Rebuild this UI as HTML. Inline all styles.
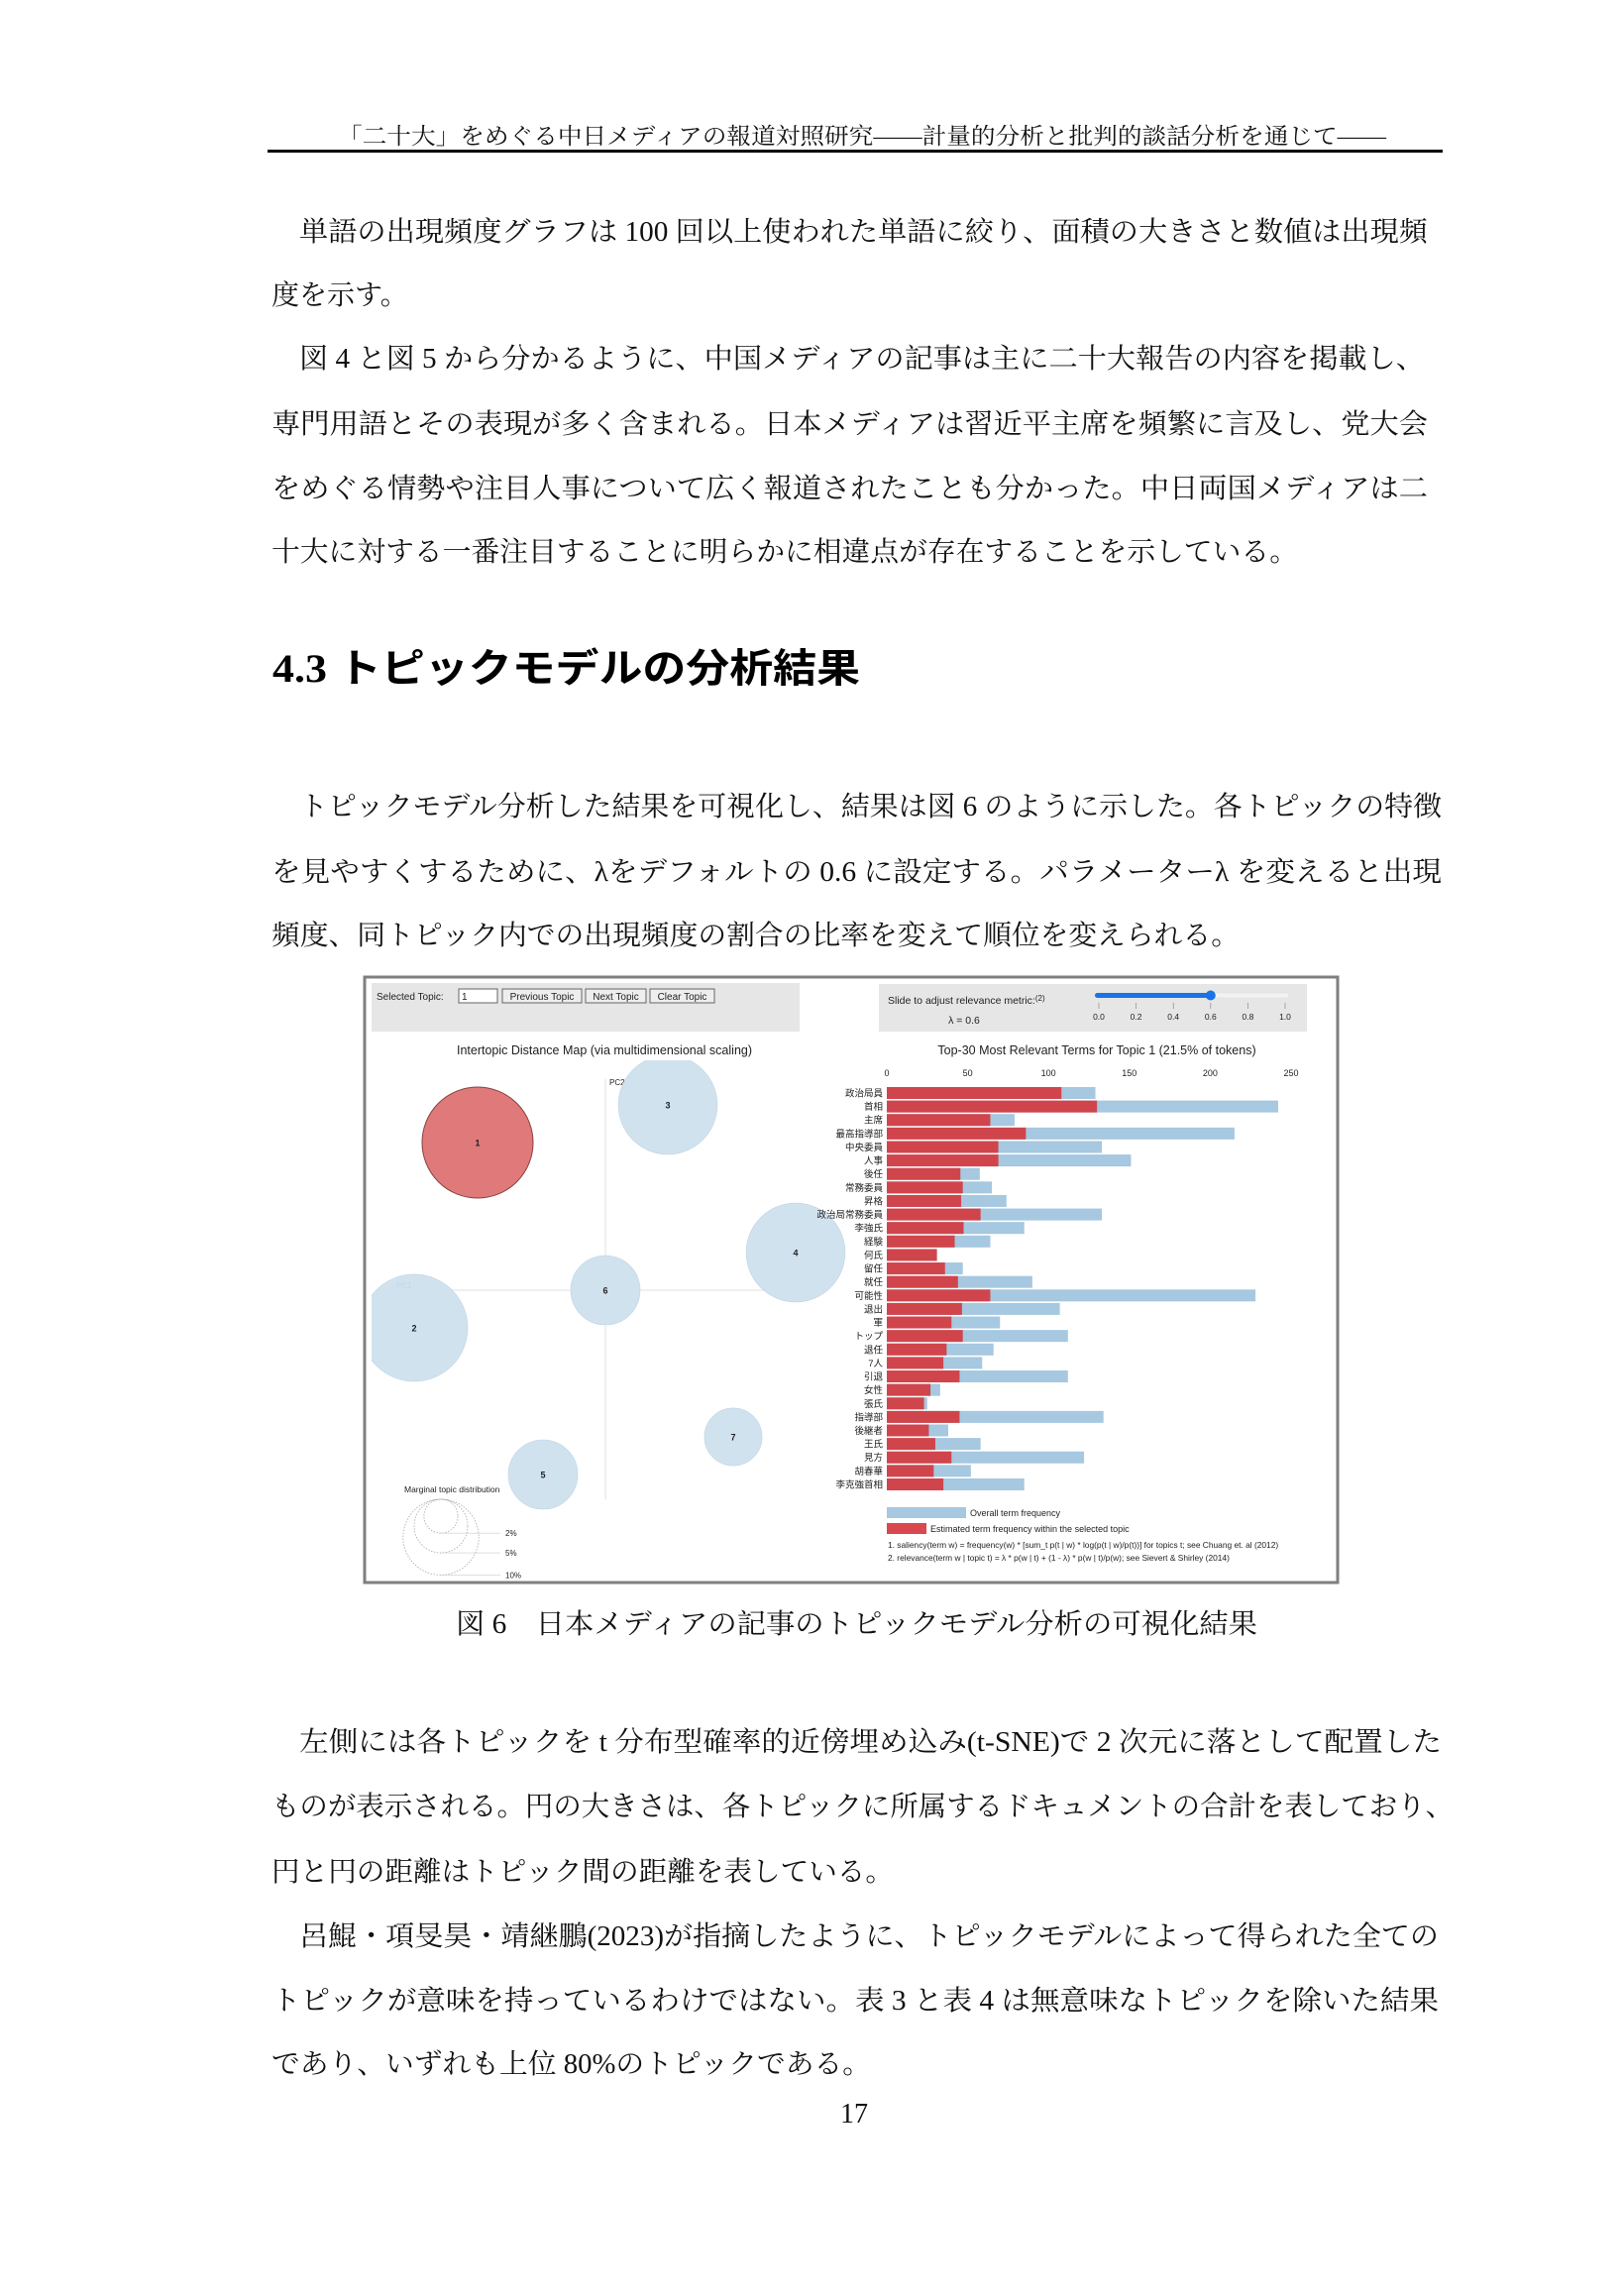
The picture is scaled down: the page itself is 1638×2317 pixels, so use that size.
<!DOCTYPE html>
<html><head><meta charset="utf-8">
<style>
html,body{margin:0;padding:0;background:#fff;}
svg{display:block;}
.t{font-family:"Liberation Serif","Noto Serif CJK SC",serif;font-size:28px;fill:#111;}
.h{font-family:"Liberation Serif","Noto Serif CJK SC",serif;font-size:23px;fill:#111;}
.hd{font-family:"Liberation Serif","Noto Sans CJK JP",sans-serif;font-size:40px;font-weight:bold;fill:#000;}
.s{font-family:"Liberation Sans","Noto Sans CJK JP",sans-serif;fill:#222;}
</style></head>
<body>
<svg id="page" width="1638" height="2317" viewBox="0 0 1638 2317" xmlns="http://www.w3.org/2000/svg">
<text class="h" x="341" y="145" textLength="1058" lengthAdjust="spacingAndGlyphs">「二十大」をめぐる中日メディアの報道対照研究——計量的分析と批判的談話分析を通じて——</text>
<rect x="270" y="151" width="1186" height="3" fill="#000"/>

<g>
<text class="t" x="302" y="243" textLength="1139" lengthAdjust="spacingAndGlyphs">単語の出現頻度グラフは 100 回以上使われた単語に絞り、面積の大きさと数値は出現頻</text>
<text class="t" x="274" y="307">度を示す。</text>
</g>
<g>
<text class="t" x="302" y="371" textLength="1136" lengthAdjust="spacingAndGlyphs">図 4 と図 5 から分かるように、中国メディアの記事は主に二十大報告の内容を掲載し、</text>
<text class="t" x="274" y="437" textLength="1167" lengthAdjust="spacingAndGlyphs">専門用語とその表現が多く含まれる。日本メディアは習近平主席を頻繁に言及し、党大会</text>
<text class="t" x="274" y="502" textLength="1167" lengthAdjust="spacingAndGlyphs">をめぐる情勢や注目人事について広く報道されたことも分かった。中日両国メディアは二</text>
<text class="t" x="274" y="566" textLength="1036" lengthAdjust="spacingAndGlyphs">十大に対する一番注目することに明らかに相違点が存在することを示している。</text>
</g>
<text class="hd" x="275" y="688" textLength="593" lengthAdjust="spacingAndGlyphs">4.3 トピックモデルの分析結果</text>
<g>
<text class="t" x="302" y="823" textLength="1153" lengthAdjust="spacingAndGlyphs">トピックモデル分析した結果を可視化し、結果は図 6 のように示した。各トピックの特徴</text>
<text class="t" x="274" y="889" textLength="1181" lengthAdjust="spacingAndGlyphs">を見やすくするために、λをデフォルトの 0.6 に設定する。パラメーターλ を変えると出現</text>
<text class="t" x="274" y="953" textLength="977" lengthAdjust="spacingAndGlyphs">頻度、同トピック内での出現頻度の割合の比率を変えて順位を変えられる。</text>
</g>

<!-- figure -->
<g id="fig">
<rect x="368" y="986" width="982" height="611" fill="#fff" stroke="#7f7f7f" stroke-width="3"/>
<rect x="375" y="992" width="432" height="49" fill="#e6e6e6"/>
<text class="s" x="380" y="1009" font-size="10">Selected Topic:</text>
<rect x="463" y="998" width="39" height="14" fill="#fff" stroke="#666"/>
<text class="s" x="466" y="1009" font-size="10">1</text>
<g><rect x="507" y="998" width="80" height="14" fill="#eee" stroke="#666"/><text class="s" x="547" y="1009" font-size="10" text-anchor="middle">Previous Topic</text></g>
<g><rect x="591" y="998" width="61" height="14" fill="#eee" stroke="#666"/><text class="s" x="621.5" y="1009" font-size="10" text-anchor="middle">Next Topic</text></g>
<g><rect x="656" y="998" width="65" height="14" fill="#eee" stroke="#666"/><text class="s" x="688.5" y="1009" font-size="10" text-anchor="middle">Clear Topic</text></g>
<text class="s" x="610" y="1064" font-size="12.5" text-anchor="middle">Intertopic Distance Map (via multidimensional scaling)</text>

<g id="mapg"></g>

<rect x="887" y="993" width="432" height="48" fill="#e6e6e6"/>
<text class="s" x="896" y="1013" font-size="10.5">Slide to adjust relevance metric:<tspan font-size="8" dy="-3">(2)</tspan></text>
<text class="s" x="973" y="1033" font-size="10.5" text-anchor="middle">λ = 0.6</text>
<g id="slider"></g>
<text class="s" x="1107" y="1064" font-size="12.5" text-anchor="middle">Top-30 Most Relevant Terms for Topic 1 (21.5% of tokens)</text>
<g id="barg"></g>

<g>
<rect x="895" y="1521" width="80" height="11" fill="#a6c8e0"/>
<text class="s" x="979" y="1530" font-size="9">Overall term frequency</text>
<rect x="895" y="1537" width="40" height="11" fill="#d9474f"/>
<text class="s" x="939" y="1546" font-size="9">Estimated term frequency within the selected topic</text>
<text class="s" x="896" y="1562" font-size="8.4">1. saliency(term w) = frequency(w) * [sum_t p(t | w) * log(p(t | w)/p(t))] for topics t; see Chuang et. al (2012)</text>
<text class="s" x="896" y="1575" font-size="8.4">2. relevance(term w | topic t) = λ * p(w | t) + (1 - λ) * p(w | t)/p(w); see Sievert &amp; Shirley (2014)</text>
</g>
</g>

<text class="t" x="460" y="1648" textLength="809" lengthAdjust="spacingAndGlyphs">図 6　日本メディアの記事のトピックモデル分析の可視化結果</text>

<g>
<text class="t" x="302" y="1767" textLength="1153" lengthAdjust="spacingAndGlyphs">左側には各トピックを t 分布型確率的近傍埋め込み(t-SNE)で 2 次元に落として配置した</text>
<text class="t" x="274" y="1832" textLength="1193" lengthAdjust="spacingAndGlyphs">ものが表示される。円の大きさは、各トピックに所属するドキュメントの合計を表しており、</text>
<text class="t" x="274" y="1898" textLength="628" lengthAdjust="spacingAndGlyphs">円と円の距離はトピック間の距離を表している。</text>
</g>
<g>
<text class="t" x="302" y="1963" textLength="1150" lengthAdjust="spacingAndGlyphs">呂鯤・項旻昊・靖継鵬(2023)が指摘したように、トピックモデルによって得られた全ての</text>
<text class="t" x="274" y="2028" textLength="1178" lengthAdjust="spacingAndGlyphs">トピックが意味を持っているわけではない。表 3 と表 4 は無意味なトピックを除いた結果</text>
<text class="t" x="274" y="2092" textLength="605" lengthAdjust="spacingAndGlyphs">であり、いずれも上位 80%のトピックである。</text>
</g>
<text class="t" x="862" y="2142" text-anchor="middle">17</text>
</svg>
<script>
var NS="http://www.w3.org/2000/svg";
// --- bar chart data ---
var terms=["政治局員","首相","主席","最高指導部","中央委員","人事","後任","常務委員","昇格","政治局常務委員","李強氏","経験","何氏","留任","就任","可能性","退出","軍","トップ","退任","7人","引退","女性","張氏","指導部","後継者","王氏","見方","胡春華","李克強首相"];
var topicFreq=[108,130,64,86,69,69,45.5,47,46,58,47.5,42,31,36,44,64,46.5,40,47,37,35,45,27,23,45,26,30,40,29,35];
var overallFreq=[129,242,79,215,133,151,57.5,65,74,133,85,64,31,47,90,228,107,70,112,66,59,112,33,25,134,38,58,122,52,85];
var xTicks=[0,50,100,150,200,250];
// --- topic map data ---
var topicIds=[1,2,3,4,5,6,7];
var pc1=[-0.645,-0.965,0.315,0.96,-0.315,0,0.645];
var pc2=[0.745,-0.19,0.935,0.19,-0.93,0,-0.74];
var topicPct=[21.5,20.0,17.1,17.1,8.4,8.4,5.8];
var legendPct=[2,5,10];
var selectedTopic=1;
var lambdaTicks=[0,0.2,0.4,0.6,0.8,1.0];
var lambdaValue=0.6;

function mk(tag,attrs,parent){var e=document.createElementNS(NS,tag);for(var k in attrs)e.setAttribute(k,attrs[k]);parent.appendChild(e);return e;}

// bar chart
var bx0=895,bunit=408/250,by0=1097,bstep=13.62,bh=12;
function xs(v){return bx0+v*bunit;}
function ys(i){return by0+i*bstep;}
var bg=document.getElementById('barg');
xTicks.forEach(function(t){
  var e=mk('text',{x:xs(t),y:1086,'font-size':9,'text-anchor':'middle','class':'s',fill:'#444'},bg);
  
  
  e.textContent=t;
});
terms.forEach(function(term,i){
  var b=mk('rect',{x:xs(0),y:ys(i),width:xs(overallFreq[i])-xs(0),height:bh,fill:'#a6c8e0'},bg);
  
  
  var r=mk('rect',{x:xs(0),y:ys(i),width:xs(topicFreq[i])-xs(0),height:bh,fill:'#d0454c'},bg);
  
  
  var l=mk('text',{x:891,y:ys(i)+9.5,'font-size':9.5,'text-anchor':'end','class':'s',fill:'#222'},bg);
  
  
  l.textContent=term;
});

// map
var mg=document.getElementById('mapg');
var cx0=611,cy0=1302,pscale=200,rk=12.08;
function mx(v){return cx0+v*pscale;}
function my(v){return cy0-v*pscale;}
function rr(p){return rk*Math.sqrt(p);}
var defs=mk('defs',{},mg);
var cp=mk('clipPath',{id:'mapclip'},defs);
mk('rect',{x:375,y:1070,width:485,height:520},cp);
var ax=mk('line',{x1:400,y1:cy0,x2:823,y2:cy0,stroke:'#e2e2e2','stroke-width':1},mg);


var ay=mk('line',{x1:cx0,y1:1089,x2:cx0,y2:1513,stroke:'#e2e2e2','stroke-width':1},mg);


var t1=mk('text',{x:400,y:1300,'font-size':8,'class':'s',fill:'#999'},mg);t1.textContent='PC1';


var t2=mk('text',{x:615,y:1095,'font-size':8,'class':'s',fill:'#999'},mg);t2.textContent='PC2';


var cg=mk('g',{'clip-path':'url(#mapclip)'},mg);
topicIds.forEach(function(id,i){
  var sel=id===selectedTopic;
  var c=mk('circle',{cx:mx(pc1[i]),cy:my(pc2[i]),r:rr(topicPct[i]),fill:sel?'#e07a7a':'#cfe0ee','fill-opacity':sel?1:0.95,stroke:sel?'#8a4040':'#c0d4e4','stroke-width':sel?1:0.6},cg);
  
  
  var tx=mk('text',{x:mx(pc1[i]),y:my(pc2[i])+3.5,'font-size':9,'font-weight':'bold','text-anchor':'middle','class':'s',fill:'#222'},cg);
  
  
  tx.textContent=id;
});
var mtl=mk('text',{x:408,y:1506,'font-size':8.5,'class':'s',fill:'#333'},mg);


mtl.textContent='Marginal topic distribution';
var ltop=1513,lcx=445;
legendPct.forEach(function(p){
  var r=rr(p);
  var c=mk('circle',{cx:lcx,cy:ltop+r,r:r,fill:'none',stroke:'#aaa','stroke-dasharray':'1.5,1.5','stroke-width':0.8},mg);
  
  
  mk('line',{x1:lcx,y1:ltop+2*r,x2:505,y2:ltop+2*r,stroke:'#ccc','stroke-width':0.6},mg);
  var lt=mk('text',{x:510,y:ltop+2*r+3,'font-size':8,'class':'s',fill:'#555'},mg);
  
  
  lt.textContent=p+'%';
});

// slider
var sg=document.getElementById('slider');
var sx0=1109,sx1=1297;
function sxs(v){return sx0+v*(sx1-sx0);}
mk('rect',{x:sxs(0)-4,y:1002,width:sxs(1)-sxs(0)+8,height:5,rx:2.5,fill:'#f2f2f2',stroke:'#ddd','stroke-width':0.5},sg);
var fill=mk('rect',{x:sxs(0)-4,y:1002,width:sxs(lambdaValue)-sxs(0)+4,height:5,rx:2.5,fill:'#1a73e8'},sg);


var knob=mk('circle',{cx:sxs(lambdaValue),cy:1004.5,r:5,fill:'#1a73e8'},sg);


lambdaTicks.forEach(function(v){
  mk('line',{x1:sxs(v),y1:1012,x2:sxs(v),y2:1018,stroke:'#888','stroke-width':0.7},sg);
  var tl=mk('text',{x:sxs(v),y:1029,'font-size':8.5,'text-anchor':'middle','class':'s',fill:'#333'},sg);
  
  
  tl.textContent=v.toFixed(1);
});
</script>
</body></html>
